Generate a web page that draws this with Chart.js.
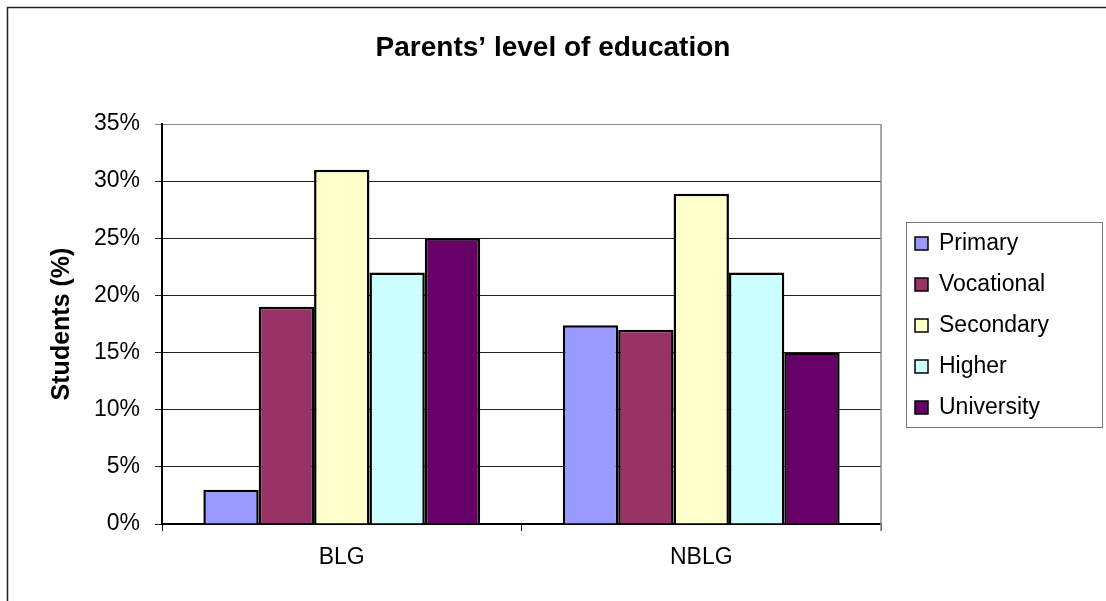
<!DOCTYPE html>
<html>
<head>
<meta charset="utf-8">
<title>Parents’ level of education</title>
<script src="https://cdn.jsdelivr.net/npm/chart.js@4.4.1/dist/chart.umd.min.js"></script>
<style>
  html, body { margin: 0; padding: 0; background: #fff; }
  #wrap { width: 1106px; height: 601px; }
</style>
</head>
<body>
<div id="wrap"><canvas id="eduChart" width="1106" height="601"></canvas></div>
<script>
// groups on the x axis
const groups = ['BLG', 'NBLG'];

// share of students per parents' education level (%)
const primary    = [3, 17.4];
const vocational = [19, 17];
const secondary  = [31, 28.9];
const higher     = [22, 22];
const university = [25, 15];

const seriesNames = ['Primary', 'Vocational', 'Secondary', 'Higher', 'University'];
const seriesColors = ['#9999FF', '#993366', '#FFFFCC', '#CCFFFF', '#660066'];
const yTicks = [0, 5, 10, 15, 20, 25, 30, 35];

const FONT = '"Liberation Sans", Arial, sans-serif';

// white page, outer frame, title, plot border and boxed legend
const decorations = {
    id: 'decorations',
    beforeDraw(chart) {
        const c = chart.ctx;
        c.save();
        c.fillStyle = '#fff';
        c.fillRect(0, 0, chart.width, chart.height);
        c.strokeStyle = '#222';
        c.lineWidth = 1.5;
        c.strokeRect(7.5, 7.5, chart.width + 20, chart.height + 20);
        c.restore();
    },
    afterDraw(chart) {
        const c = chart.ctx;
        const a = chart.chartArea;
        c.save();

        // right edge of the plot area
        c.strokeStyle = '#8a8a8a';
        c.lineWidth = 1.5;
        c.beginPath();
        c.moveTo(a.right, a.top);
        c.lineTo(a.right, a.bottom + 7);
        c.stroke();

        // title
        c.fillStyle = '#000';
        c.font = 'bold 28px ' + FONT;
        c.textAlign = 'center';
        c.textBaseline = 'alphabetic';
        c.fillText('Parents’ level of education', 553, 56);

        // legend
        const lx = 906, ly = 222, lw = 196, lh = 205;
        c.strokeStyle = '#777';
        c.lineWidth = 1;
        c.strokeRect(lx + 0.5, ly + 0.5, lw, lh);
        c.font = '23px ' + FONT;
        c.textAlign = 'left';
        c.textBaseline = 'middle';
        chart.data.datasets.forEach((ds, i) => {
            const cy = 243 + i * 41;
            c.fillStyle = ds.backgroundColor;
            c.fillRect(915, cy - 6, 13, 13);
            c.strokeStyle = '#000';
            c.lineWidth = 1.5;
            c.strokeRect(915, cy - 6, 13, 13);
            c.fillStyle = '#000';
            c.fillText(ds.label, 939, cy + 1);
        });
        c.restore();
    }
};

const seriesValues = [primary, vocational, secondary, higher, university];

new Chart(document.getElementById('eduChart'), {
    type: 'bar',
    data: {
        labels: groups,
        datasets: seriesNames.map((name, i) => ({
            label: name,
            data: seriesValues[i],
            backgroundColor: seriesColors[i],
            borderColor: '#000',
            borderWidth: 2.5,
            categoryPercentage: 0.77,
            barPercentage: 1.0
        }))
    },
    options: {
        responsive: false,
        animation: false,
        layout: { padding: { left: 0, top: 124, right: 225, bottom: 0 } },
        plugins: {
            legend: { display: false },
            title: { display: false },
            tooltip: { enabled: false }
        },
        scales: {
            x: {
                offset: true,
                grid: {
                    offset: true,
                    drawOnChartArea: false,
                    drawTicks: true,
                    tickLength: 7,
                    color: '#000'
                },
                border: { color: '#000', width: 2 },
                ticks: {
                    color: '#000',
                    padding: 13,
                    font: { family: FONT, size: 23 }
                },
                afterFit(scale) { scale.height = 77; }
            },
            y: {
                min: 0,
                max: 35,
                afterBuildTicks(scale) { scale.ticks = yTicks.map(v => ({ value: v })); },
                grid: {
                    color: ctx => (ctx.tick && ctx.tick.value === 35 ? '#8a8a8a' : '#222'),
                    lineWidth: 1,
                    tickLength: 7
                },
                border: { color: '#000', width: 2 },
                ticks: {
                    color: '#000',
                    padding: 15,
                    font: { family: FONT, size: 23 },
                    callback: v => v + '%'
                },
                title: {
                    display: true,
                    text: 'Students (%)',
                    color: '#000',
                    font: { family: FONT, size: 25, weight: 'bold' },
                    padding: { top: 47, bottom: 0 }
                },
                afterFit(scale) { scale.width = 162; }
            }
        }
    },
    plugins: [decorations]
});
</script>
</body>
</html>
